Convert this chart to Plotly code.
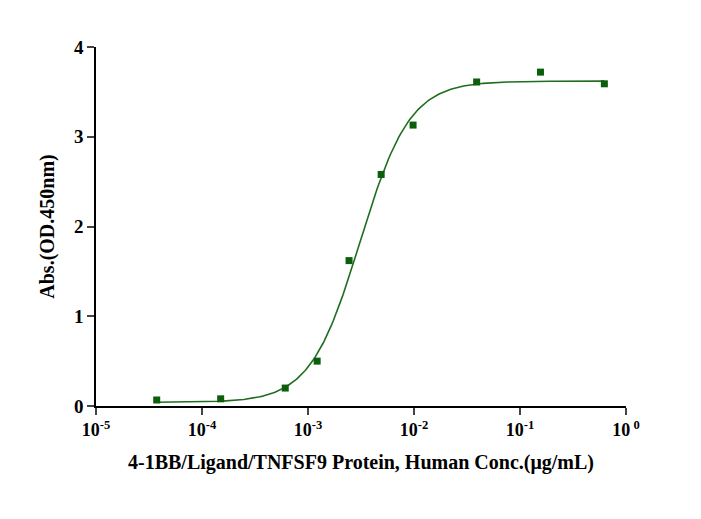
import numpy as np
import plotly.graph_objects as go

conc = [0.625, 0.156, 0.039, 0.0098, 0.0049, 0.00244, 0.00122, 0.00061, 0.00015, 0.0000374]
absorb = [3.59, 3.72, 3.61, 3.13, 2.58, 1.62, 0.50, 0.20, 0.08, 0.067]
tick_vals = [1e-5, 1e-4, 1e-3, 1e-2, 1e-1, 1e0]
tick_text = ["<b>10<sup>-5</sup></b>", "<b>10<sup>-4</sup></b>", "<b>10<sup>-3</sup></b>",
             "<b>10<sup>-2</sup></b>", "<b>10<sup>-1</sup></b>", "<b>10<sup> 0</sup></b>"]
y_vals = [0, 1, 2, 3, 4]
y_text = ["<b>0</b>", "<b>1</b>", "<b>2</b>", "<b>3</b>", "<b>4</b>"]

# 4PL fit parameters (estimated)
bottom, top, ec50, hill = 0.04, 3.62, 0.0031, 1.85
xc = np.logspace(np.log10(min(conc)), np.log10(max(conc)), 300)
yc = bottom + (top - bottom) / (1 + (ec50 / xc) ** hill)

font = dict(family="Liberation Serif, Times New Roman, serif", size=17, color="black")
fig = go.Figure()
fig.add_trace(go.Scatter(x=xc, y=yc, mode="lines", line=dict(color="#1f6e1f", width=1.6), hoverinfo="skip"))
fig.add_trace(go.Scatter(x=conc, y=absorb, mode="markers",
                         marker=dict(symbol="square", size=7, color="#0b5e0b")))
fig.update_layout(
    width=701, height=519, showlegend=False, plot_bgcolor="white", paper_bgcolor="white",
    margin=dict(l=88, r=83, t=39, b=121), font=font,
    xaxis=dict(type="log", range=[-5, 0], tickvals=tick_vals, ticktext=tick_text,
               showline=True, linecolor="black", linewidth=1.5, ticks="outside", ticklen=7,
               tickwidth=1.5, showgrid=False, zeroline=False,
               title=dict(text="<b>4-1BB/Ligand/TNFSF9 Protein, Human Conc.(μg/mL)</b>", standoff=16),
               tickfont=dict(family="Liberation Serif", size=18, color="black")),
    yaxis=dict(range=[0, 4], tickvals=y_vals, ticktext=y_text, showline=True, linecolor="black", linewidth=1.5,
               ticks="outside", ticklen=7, tickwidth=1.5, showgrid=False, zeroline=False,
               title=dict(text="<b>Abs.(OD.450nm)</b>", standoff=14),
               tickfont=dict(family="Liberation Serif", size=19, color="black")),
)
fig.write_html("out.html")
